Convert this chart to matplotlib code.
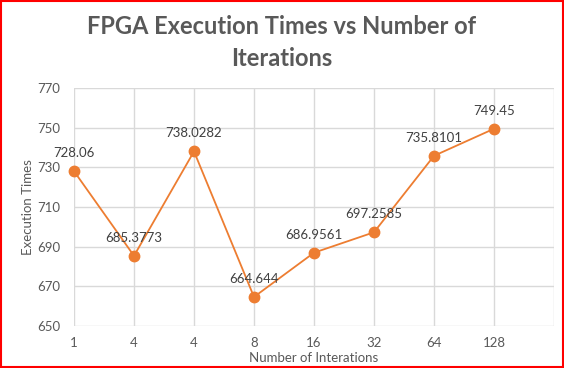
import matplotlib
matplotlib.use("Agg")
import matplotlib.pyplot as plt
from matplotlib.patches import Rectangle

# --- DONNEES ---
iterations = ["1", "4", "4", "8", "16", "32", "64", "128"]
exec_times = [728.06, 685.3773, 738.0282, 664.644, 686.9561, 697.2585, 735.8101, 749.45]
labels = ["728.06", "685.3773", "738.0282", "664.644", "686.9561", "697.2585", "735.8101", "749.45"]
y_ticks = [650, 670, 690, 710, 730, 750, 770]

ORANGE = "#ED7D31"
GRID = "#D9D9D9"
TXT = "#595959"

plt.rcParams['font.family'] = ['Lato', 'DejaVu Sans']

fig = plt.figure(figsize=(5.64, 3.68), dpi=100)
ax = fig.add_axes([74/564, 42/368, 480/564, 238/368])

x = list(range(len(iterations)))
ax.plot(x, exec_times, color=ORANGE, lw=1.3, marker='o', ms=7.5,
        markerfacecolor=ORANGE, markeredgecolor=ORANGE, zorder=3, clip_on=False)

for xi, yi, lab in zip(x, exec_times, labels):
    ax.annotate(lab, (xi, yi), xytext=(0, 13), textcoords='offset points',
                ha='center', va='center', fontsize=9.5, color="#404040")

ax.set_xlim(0, len(iterations))
ax.set_ylim(650, 770)
ax.set_yticks(y_ticks)
ax.set_xticks(x)
ax.set_xticklabels(iterations)

# grille verticale sur toutes les graduations, y compris les bords
for xv in range(len(iterations) + 1):
    ax.axvline(xv, color=GRID, lw=1, zorder=1)
for yv in y_ticks:
    ax.axhline(yv, color=GRID, lw=1, zorder=1)

for s in ax.spines.values():
    s.set_visible(False)
ax.tick_params(length=0, labelsize=9.5, colors=TXT)
ax.tick_params(axis='y', pad=10)
ax.tick_params(axis='x', pad=8)

ax.set_xlabel("Number of Interations", fontsize=9.5, color=TXT, labelpad=2)
ax.set_ylabel("Execution Times", fontsize=9.5, color=TXT, labelpad=2)

fig.text(0.5, 1 - 27/368, "FPGA Execution Times vs Number of", ha='center', va='center',
         fontsize=17, fontweight='bold', color=TXT)
fig.text(0.5, 1 - 58/368, "Iterations", ha='center', va='center',
         fontsize=17, fontweight='bold', color=TXT)

# cadre rouge autour de l'image
fig.patches.append(Rectangle((0.001, 0.002), 0.997, 0.996, transform=fig.transFigure,
                             fill=False, edgecolor='red', lw=1.5))

fig.savefig("out.png", dpi=100)
